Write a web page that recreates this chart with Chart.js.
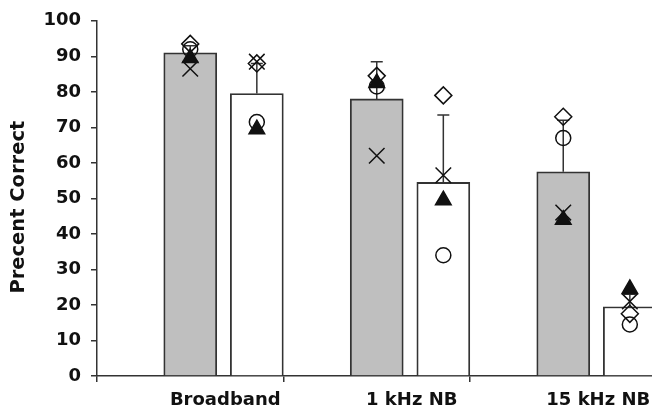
<!DOCTYPE html>
<html>
<head>
<meta charset="utf-8">
<script src="https://cdn.jsdelivr.net/npm/chart.js@4.4.1/dist/chart.umd.min.js"></script>
<style>
	html, body { margin: 0; padding: 0; background: #fff; overflow: hidden; }
	#wrap { width: 669px; height: 418px; }
</style>
</head>
<body>
<div id="wrap"><canvas id="barChart" width="669" height="418"></canvas></div>

<script>
	// values
	const categories = ['Broadband', '1 kHz NB', '15 kHz NB'];
	const grayMeans = [91, 78, 57.5];
	const whiteMeans = [79.5, 54.5, 19.5];
	const grayErrTop = [93, 88.5, 72];
	const whiteErrTop = [88, 73.5, 23];

	// individual listeners, per condition
	const diamondGray = [93.5, 84.5, 73];
	const diamondWhite = [88, 79, 17.5];
	const circleGray = [92, 81.5, 67];
	const circleWhite = [71.5, 34, 14.5];
	const triangleGray = [89.5, 82.5, 44];
	const triangleWhite = [69.5, 49.5, 24.5];
	const crossGray = [86.5, 62, 46];
	const crossWhite = [88.5, 56.5, 21];

	const yTicks = { min: 0, max: 100, step: 10 };

	const ink = '#111';
	const axisColor = '#333';
	const tickFont = { family: "'DejaVu Sans', sans-serif", size: 18, weight: 'bold' };
	const titleFont = { family: "'DejaVu Sans', sans-serif", size: 19.5, weight: 'bold' };

	// the white bar sits this far (in categories) right of the gray one
	const whiteShift = 0.357;

	// upper error whiskers from each bar top
	const errorBars = {
		id: 'errorBars',
		afterDatasetDraw(chart, args) {
			const ds = chart.data.datasets[args.index];
			if (!ds.errTop) return;
			const yScale = chart.scales.y;
			const c = chart.ctx;
			c.save();
			c.strokeStyle = axisColor;
			c.lineWidth = 1.5;
			args.meta.data.forEach((bar, i) => {
				const top = ds.errTop[i];
				if (top == null) return;
				const yTop = yScale.getPixelForValue(top);
				c.beginPath();
				c.moveTo(bar.x, bar.y);
				c.lineTo(bar.x, yTop);
				c.moveTo(bar.x - 6, yTop);
				c.lineTo(bar.x + 6, yTop);
				c.stroke();
			});
			c.restore();
		}
	};

	const toXY = values => values.map((v, i) => ({ x: i, y: v }));

	function barSet(label, values, errTop, axisID, fill) {
		return {
			type: 'bar',
			label: label,
			xAxisID: axisID,
			order: 2,
			grouped: false,
			barThickness: 53,
			data: toXY(values),
			errTop: errTop,
			backgroundColor: fill,
			borderColor: axisColor,
			borderWidth: 1.8
		};
	}

	function markerSet(label, values, axisID, style, radius, filled) {
		return {
			type: 'line',
			label: label,
			xAxisID: axisID,
			showLine: false,
			order: 1,
			data: toXY(values),
			pointStyle: style,
			pointRadius: radius,
			pointHoverRadius: radius,
			pointBorderWidth: 1.5,
			pointBorderColor: ink,
			pointBackgroundColor: filled ? ink : 'rgba(0,0,0,0)'
		};
	}

	// hidden value axes that line up with the category axis
	function hiddenAxis(shift) {
		return {
			type: 'linear', display: false, offset: false,
			grid: { offset: false },
			min: -0.5 - shift, max: categories.length - 0.5 - shift
		};
	}

	const ctx = document.getElementById('barChart').getContext('2d');
	const chart = new Chart(ctx, {
		type: 'bar',
		data: {
			labels: categories,
			datasets: [
				barSet('gray', grayMeans, grayErrTop, 'xg', '#bfbfbf'),
				barSet('white', whiteMeans, whiteErrTop, 'xw', '#ffffff'),
				markerSet('diamond g', diamondGray, 'xg', 'rectRot', 8.5, false),
				markerSet('circle g', circleGray, 'xg', 'circle', 7.5, false),
				markerSet('triangle g', triangleGray, 'xg', 'triangle', 9, true),
				markerSet('cross g', crossGray, 'xg', 'crossRot', 11, false),
				markerSet('diamond w', diamondWhite, 'xw', 'rectRot', 8.5, false),
				markerSet('circle w', circleWhite, 'xw', 'circle', 7.5, false),
				markerSet('triangle w', triangleWhite, 'xw', 'triangle', 9, true),
				markerSet('cross w', crossWhite, 'xw', 'crossRot', 11, false)
			]
		},
		plugins: [errorBars],
		options: {
			responsive: false,
			animation: false,
			layout: { padding: { top: 19, right: 4, left: 0, bottom: 0 } },
			plugins: {
				legend: { display: false },
				tooltip: { enabled: false }
			},
			scales: {
				x: {
					type: 'category',
					offset: true,
					grid: { display: true, offset: true, drawOnChartArea: false, tickLength: 6, color: axisColor, lineWidth: 1.5 },
					border: { display: true, color: axisColor, width: 1.5 },
					ticks: { font: tickFont, color: ink, labelOffset: 35, padding: 8, maxRotation: 0, autoSkip: false },
					afterFit: s => { s.height = 42; }
				},
				xg: hiddenAxis(0),
				xw: hiddenAxis(whiteShift),
				y: {
					min: yTicks.min,
					max: yTicks.max,
					grid: { display: true, drawOnChartArea: false, tickLength: 6, color: axisColor, lineWidth: 1.5 },
					border: { display: true, color: axisColor, width: 1.5 },
					ticks: { stepSize: yTicks.step, font: tickFont, color: ink, padding: 10 },
					title: { display: true, text: 'Precent Correct  \u2009', font: titleFont, color: ink, padding: { top: 7, bottom: 0 } },
					afterFit: s => { s.width = 97; }
				}
			}
		}
	});
</script>
</body>
</html>
